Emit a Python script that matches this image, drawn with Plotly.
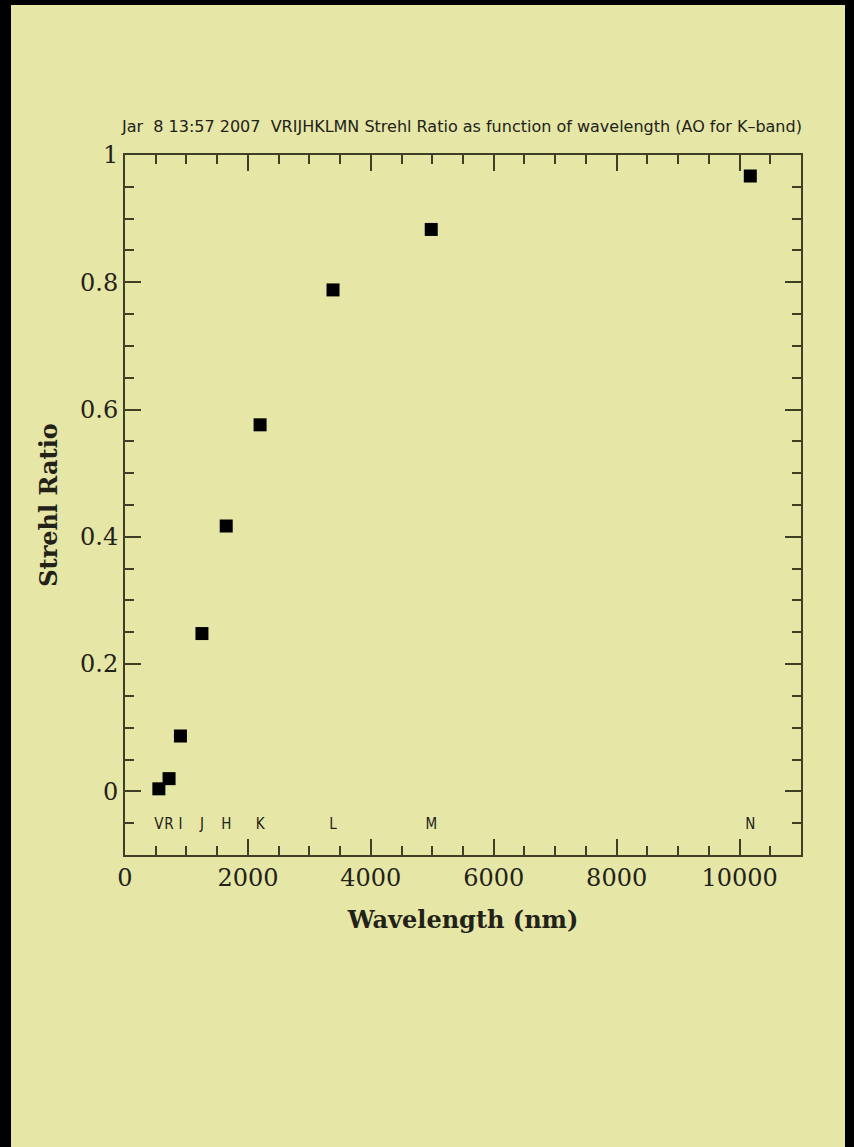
import plotly.graph_objects as go

# ---- data ----
bands = ["V", "R", "I", "J", "H", "K", "L", "M", "N"]
wavelength_nm = [551, 717, 902, 1252, 1647, 2198, 3385, 4983, 10175]
strehl = [0.004, 0.020, 0.087, 0.248, 0.417, 0.576, 0.788, 0.883, 0.967]
band_label_y = -0.054
title_text = "Jar  8 13:57 2007  VRIJHKLMN Strehl Ratio as function of wavelength (AO for K\u2013band)"
x_title = "Wavelength (nm)"
y_title = "Strehl Ratio"

W, H = 854, 1147
L, R, T, B = 125, 53, 155, 292
pw, ph = W - L - R, H - T - B

bg = "#E6E6A7"
axc = "#3F3F25"
txt = "#222218"

fig = go.Figure()
fig.add_trace(go.Scatter(
    x=wavelength_nm, y=strehl, mode="markers",
    marker=dict(symbol="square", size=13, color="black", line=dict(width=0)),
    hoverinfo="x+y", showlegend=False))
fig.add_trace(go.Scatter(
    x=wavelength_nm, y=[band_label_y] * len(bands), mode="text", text=bands,
    textposition="middle center",
    textfont=dict(family="DejaVu Sans Condensed, DejaVu Sans", size=15, color=txt),
    hoverinfo="skip", showlegend=False))

axis_common = dict(
    showgrid=False, zeroline=False, showline=True, linecolor=axc, linewidth=2,
    mirror="allticks", ticks="inside", tickcolor=axc, tickwidth=2, ticklen=16,
    tickfont=dict(family="DejaVu Serif", size=24, color=txt),
)
fig.update_xaxes(
    range=[0, 11000], dtick=2000, tick0=0, tickformat="d",
    minor=dict(dtick=500, ticks="inside", ticklen=9, tickcolor=axc, tickwidth=2),
    title=dict(text="<b>" + x_title + "</b>",
               font=dict(family="DejaVu Serif", size=24, color=txt), standoff=20),
    **axis_common)
fig.update_yaxes(
    range=[-0.1, 1.0], dtick=0.2, tick0=0,
    minor=dict(dtick=0.05, ticks="inside", ticklen=9, tickcolor=axc, tickwidth=2),
    title=dict(text="<b>" + y_title + "</b>",
               font=dict(family="DejaVu Serif", size=24, color=txt), standoff=16),
    **axis_common)

def px(xp):
    return (xp - L) / pw

def py(yp):
    return (H - B - yp) / ph

fig.add_annotation(
    text=title_text, xref="paper", yref="paper", x=px(119), y=py(127),
    xanchor="left", yanchor="middle", showarrow=False,
    font=dict(family="DejaVu Sans", size=16, color=txt))

# black scan borders
for x0, y0, x1, y1 in [(0, 0, 11, H), (0, 0, W, 5), (845, 0, W, H)]:
    fig.add_shape(type="rect", xref="paper", yref="paper",
                  x0=px(x0), x1=px(x1), y0=py(y0), y1=py(y1),
                  fillcolor="black", line=dict(width=0), layer="above")

fig.update_layout(
    width=W, height=H, margin=dict(l=L, r=R, t=T, b=B, autoexpand=False),
    paper_bgcolor=bg, plot_bgcolor=bg,
)
fig.write_html("out.html")
